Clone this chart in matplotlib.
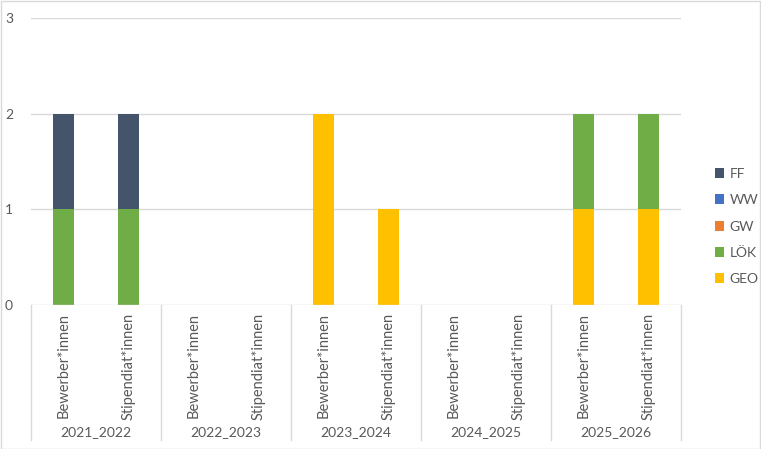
import numpy as np
import matplotlib
matplotlib.use("Agg")
import matplotlib.pyplot as plt
from matplotlib.patches import Rectangle

plt.rcParams['font.family'] = ['Lato', 'DejaVu Sans']

# data
years = ["2021_2022", "2022_2023", "2023_2024", "2024_2025", "2025_2026"]
roles = ["Bewerber*innen", "Stipendiat*innen"]
series_names = ["GEO", "LÖK", "GW", "WW", "FF"]  # bottom to top
GEO = [0, 0, 0, 0, 2, 1, 0, 0, 1, 1]
LOEK = [1, 1, 0, 0, 0, 0, 0, 0, 1, 1]
GW = [0, 0, 0, 0, 0, 0, 0, 0, 0, 0]
WW = [0, 0, 0, 0, 0, 0, 0, 0, 0, 0]
FF = [1, 1, 0, 0, 0, 0, 0, 0, 0, 0]
colors = {"GEO": "#FFC000", "LÖK": "#70AD47", "GW": "#ED7D31", "WW": "#4472C4", "FF": "#44546A"}

values = {"GEO": GEO, "LÖK": LOEK, "GW": GW, "WW": WW, "FF": FF}
txt = "#595959"
grid = "#D9D9D9"

W, H = 761, 449
fig = plt.figure(figsize=(W / 100, H / 100), dpi=100)
ax = fig.add_axes([31 / W, 1 - 305 / H, 650 / W, 287 / H])

n = len(years) * len(roles)
x = np.arange(n)
bottom = np.zeros(n)
bars = {}
for name in series_names:
    v = np.array(values[name], dtype=float)
    bars[name] = ax.bar(x, v, width=0.31, bottom=bottom, color=colors[name], label=name, zorder=3)
    bottom += v

ax.set_xlim(-0.5, n - 0.5)
ax.set_ylim(0, 3)
ax.set_yticks([0, 1, 2, 3])
ax.tick_params(axis='y', length=0, pad=13, labelsize=10, labelcolor=txt)
ax.set_xticks([])
for s in ax.spines.values():
    s.set_visible(False)
for yv in [1, 2, 3]:
    ax.axhline(yv, color=grid, lw=1, zorder=1)
ax.axhline(0, color=grid, lw=1, zorder=4)

# multi-level category axis
trans = ax.get_xaxis_transform()
y_bot = -(440 - 305) / 287
for k in range(len(years) + 1):
    ax.plot([k * 2 - 0.5] * 2, [0, y_bot], color=grid, lw=1, transform=trans, clip_on=False)
for i in range(n):
    ax.text(x[i], -8 / 287, roles[i % 2], rotation=90, ha='center', va='top',
            fontsize=10.5, color=txt, transform=trans)
for k, yr in enumerate(years):
    ax.text(k * 2 + 0.5, -(432 - 305) / 287, yr, ha='center', va='center',
            fontsize=10, color=txt, transform=trans)

# legend
handles = [bars[nm] for nm in series_names[::-1]]
leg = fig.legend(handles, series_names[::-1], loc='center left', bbox_to_anchor=(702 / W, 1 - 226.5 / H),
                 frameon=False, fontsize=10, labelcolor=txt, handlelength=0.7, handleheight=0.7,
                 handletextpad=0.4, labelspacing=1.03)

# chart border
fig.patches.append(Rectangle((0.5 / W, 0.5 / H), 1 - 1.5 / W, 1 - 1.5 / H, transform=fig.transFigure,
                             fill=False, edgecolor="#D9D9D9", lw=1))

fig.savefig("out.png", dpi=100)
